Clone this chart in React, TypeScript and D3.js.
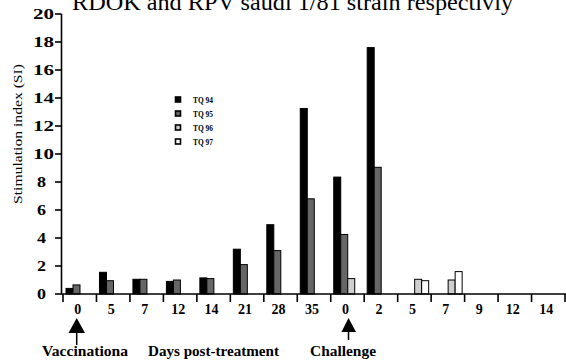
import * as d3 from "d3"

const W = 566, H = 362
const SERIF = "'Liberation Serif', 'Times New Roman', serif"

const categories = ["0", "5", "7", "12", "14", "21", "28", "35", "0", "2", "5", "7", "9", "12", "14"]
const seriesNames = ["TQ 94", "TQ 95", "TQ 96", "TQ 97"]
const tq94 = [0.4, 1.55, 1.05, 0.9, 1.15, 3.2, 4.95, 13.25, 8.35, 17.6, null, null, null, null, null]
const tq95 = [0.65, 0.95, 1.05, 1.0, 1.1, 2.1, 3.1, 6.8, 4.25, 9.05, null, null, null, null, null]
const tq96 = [null, null, null, null, null, null, null, null, 1.1, null, 1.05, 1.0, null, null, null]
const tq97 = [null, null, null, null, null, null, null, null, null, null, 0.95, 1.6, null, null, null]
const yTicks = [0, 2, 4, 6, 8, 10, 12, 14, 16, 18, 20]
const fills = ["#000", "#666", "#cfcfcf", "#fff"]

const series = [tq94, tq95, tq96, tq97]

export default function App() {
  const x = d3.scaleBand<number>().domain(d3.range(categories.length)).range([63, 565])
  const inner = d3.scaleBand<number>().domain(d3.range(series.length)).range([3, 31])
  const y = d3.scaleLinear().domain([0, 20]).range([294, 14])

  return (
    <div style={{ position: "fixed", left: 0, top: 0 }}>
      <svg width={W} height={H} style={{ display: "block", background: "#fff" }} fontFamily={SERIF}>
        <text x={72} y={10} fontSize={24} textLength={441} lengthAdjust="spacingAndGlyphs">
          RDOK and RPV  saudi 1/81 strain respectivly
        </text>

        {/* bars */}
        {series.map((vals, si) =>
          vals.map((v, i) =>
            v == null ? null : (
              <rect key={`${si}-${i}`}
                x={x(i)! + inner(si)!} y={y(v)}
                width={inner.bandwidth()} height={y(0) - y(v)}
                fill={fills[si]} stroke="#000" strokeWidth={1} />
            )
          )
        )}

        {/* y axis */}
        <line x1={61.5} x2={61.5} y1={y(20)} y2={y(0)} stroke="#000" strokeWidth={1.6} />
        {yTicks.map(t => (
          <g key={t}>
            <line x1={55} x2={61.5} y1={y(t)} y2={y(t)} stroke="#000" strokeWidth={1.6} />
            <text x={String(t).length > 1 ? 54 : 46} y={y(t) + 5} textAnchor="end" fontSize={15}
              fontWeight="bold" textLength={String(t).length > 1 ? 21 : 9} lengthAdjust="spacingAndGlyphs">
              {t}
            </text>
          </g>
        ))}
        <text transform={`translate(22,134) rotate(-90)`} textAnchor="middle" fontSize={13}
          textLength={140} lengthAdjust="spacingAndGlyphs">
          Stimulation index (SI)
        </text>

        {/* x axis */}
        <line x1={61} x2={566} y1={y(0)} y2={y(0)} stroke="#000" strokeWidth={1.6} />
        {d3.range(categories.length + 1).map(i => {
          const px = i < categories.length ? x(i)! : x(categories.length - 1)! + x.bandwidth()
          return <line key={i} x1={px} x2={px} y1={y(0)} y2={y(0) + 8} stroke="#000" strokeWidth={1.6} />
        })}
        {categories.map((c, i) => (
          <text key={i} x={x(i)! + x.bandwidth() / 2 - 2} y={314} textAnchor="middle" fontSize={14}
            fontWeight="bold">
            {c}
          </text>
        ))}

        {/* legend */}
        {seriesNames.map((n, i) => (
          <g key={n} transform={`translate(175,${100 + i * 14})`}>
            <rect x={0.5} y={-3} width={5} height={5} fill={fills[i]} stroke="#000" strokeWidth={1.6} />
            <text x={18} y={2.5} fontSize={8} fontWeight="bold" textLength={20} lengthAdjust="spacingAndGlyphs">
              {n}
            </text>
          </g>
        ))}

        {/* annotations */}
        <path d="M76.7,318 L68.5,333 L85,333 Z" fill="#000" />
        <line x1={76.7} x2={76.7} y1={333} y2={345} stroke="#000" strokeWidth={1.5} />
        <path d="M348.5,318 L341.5,332 L356,332 Z" fill="#000" />
        <line x1={348.5} x2={348.5} y1={332} y2={340} stroke="#000" strokeWidth={1.5} />
        <text x={42} y={356} fontSize={14} fontWeight="bold" textLength={86} lengthAdjust="spacingAndGlyphs">
          Vaccinationa
        </text>
        <text x={148} y={356} fontSize={14} fontWeight="bold" textLength={131} lengthAdjust="spacingAndGlyphs">
          Days post-treatment
        </text>
        <text x={310} y={356} fontSize={14} fontWeight="bold" textLength={66} lengthAdjust="spacingAndGlyphs">
          Challenge
        </text>
      </svg>
    </div>
  )
}
